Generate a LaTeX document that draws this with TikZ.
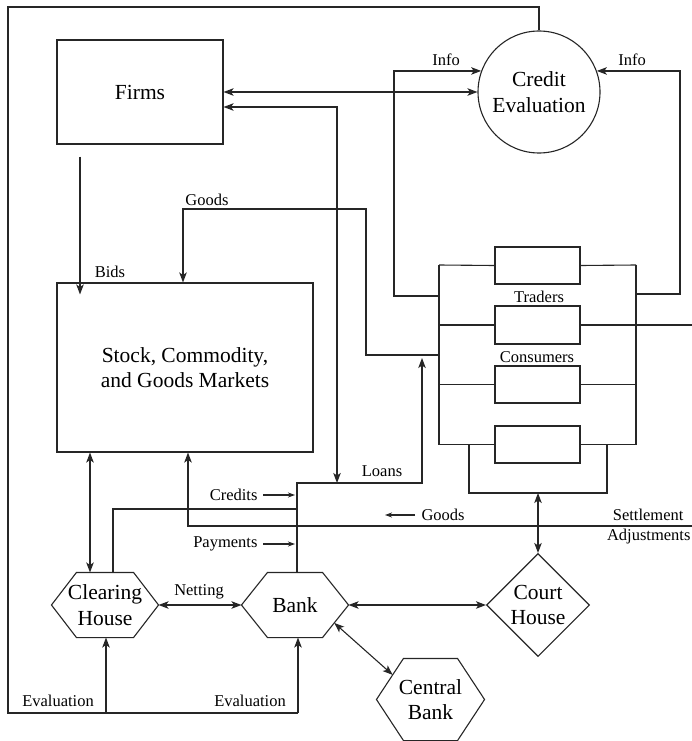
\documentclass[tikz,border=0pt]{standalone}
\usepackage{fontspec}
\setmainfont{Liberation Serif}
\usetikzlibrary{arrows.meta,shapes.geometric,calc}
\newcommand\hexnode[2]{\draw (#1.west) -- ([xshift=#2]#1.north west) -- ([xshift=-#2]#1.north east) -- (#1.east) -- ([xshift=-#2]#1.south east) -- ([xshift=#2]#1.south west) -- cycle;}
\begin{document}
\begin{tikzpicture}[x=1pt,y=-1pt, line width=1.1pt, color=black!85,
  >={Stealth[length=10pt,width=7.5pt,inset=2.5pt]},
  big/.style={font=\fontsize{21.5}{25.5}\selectfont, align=center, text=black},
  lbl/.style={font=\fontsize{16.5}{19}\selectfont, inner sep=0pt, text=black},
  box/.style={draw, rectangle, inner sep=0pt},
  smallarrow/.style={-{Stealth[length=7pt,width=5pt,inset=2pt]}},
  heavy/.style={line width=1.7pt},
]
\useasboundingbox (0,0) rectangle (692,741);

% main nodes
\node[box, big, minimum width=166pt, minimum height=104pt] (firms) at (140,92) {Firms};
\node[circle, draw, minimum size=122pt, inner sep=0pt, big] (credit) at (539,92) {Credit\\Evaluation};
\node[box, big, minimum width=256pt, minimum height=169pt] (market) at (185,367.5) {Stock, Commodity,\\and Goods Markets};
\node[box, minimum width=85pt, minimum height=37pt] (tr1) at (537.5,265.5) {};
\node[box, minimum width=85pt, minimum height=38pt] (tr2) at (537.5,325) {};
\node[box, minimum width=85pt, minimum height=37pt] (tr3) at (537.5,384.5) {};
\node[box, minimum width=85pt, minimum height=37pt] (tr4) at (537.5,444.5) {};
\node[big, minimum width=106pt, minimum height=64pt, inner sep=0pt] (ch) at (105,605) {Clearing\\House};
\node[big, minimum width=106pt, minimum height=64pt, inner sep=0pt] (bank) at (295,605) {Bank};
\node[big, draw, diamond, minimum width=103pt, minimum height=103pt, inner sep=0pt] (court) at (538,605) {Court\\House};
\node[big, minimum width=107pt, minimum height=81pt, inner sep=0pt] (cbank) at (430.5,699.5) {Central\\Bank};
\hexnode{ch}{25pt}
\hexnode{bank}{26pt}
\hexnode{cbank}{27pt}

% coordinates
\coordinate (bL1) at (439,265);
\coordinate (bL4) at (439,445);
\coordinate (bR1) at (636,265);
\coordinate (bR4) at (636,445);
\coordinate (ubot) at (538,493);
\coordinate (loanTop) at (337,483);
\coordinate (loanEnd) at (422,358);
\coordinate (goodsW) at (439,355);
\coordinate (infoLW) at (439,296);
\coordinate (infoRE) at (636,294);
\coordinate (setR) at (692,526);
\coordinate (frameTL) at (8,7);
\coordinate (bkse) at ($(bank.east)!0.55!([xshift=-26pt]bank.south east)$);
\coordinate (cbnw) at ($([xshift=27pt]cbank.north west)!0.4!(cbank.west)$);

% traders / consumers block
\draw (bL1) -- (bL4);
\draw (bR1) -- (bR4);
\draw (bL1) -- (tr1.west);
\draw (tr1.east) -- (bR1);
\draw[heavy] (tr2.west -| bL1) -- (tr2.west);
\draw[heavy] (tr2.east) -- (tr2.east -| setR);
\draw[heavy] (tr3.west -| bL1) -- (tr3.west);
\draw[heavy] (tr3.east) -- (tr3.east -| bR1);
\draw (tr4.west -| bL1) -- (tr4.west);
\draw (tr4.east) -- (tr4.east -| bR1);
\draw (469,445) -- (469,493) -- (607,493) -- (607,445);
\node[lbl] (traders) at (539,297) {Traders};
\node[lbl] (consumers) at (537,357) {Consumers};

% Firms <-> Credit Evaluation
\draw[<->] (firms.east) -- (credit.west);
% Firms <-> loans line
\draw[<->] ([yshift=-15pt]firms.east) -| (loanTop);
% Info arrows
\draw[->] (infoLW) -- (394,296) |- (credit.160);
\draw[->] (infoRE) -- (680,294) |- (credit.20);
\node[lbl] (info1) at (446,60) {Info};
\node[lbl] (info2) at (632,60) {Info};
% Goods (top)
\draw[->] (goodsW) -- (366,355) -- (366,209) -| ([xshift=-2pt]market.north);
\node[lbl] (goods1) at (207,200) {Goods};
% Bids
\draw[->] ([xshift=-60pt,yshift=-12pt]firms.south) -- ([xshift=-60pt,yshift=-12pt]firms.south |- market.north);
\node[lbl] (bids) at (110,272) {Bids};
% Loans
\draw[->] ([xshift=2pt]bank.north) |- (422,483) -- (loanEnd);
\node[lbl] (loans) at (382,471) {Loans};
% Clearing house line to bank line
\draw ([xshift=8pt]ch.north) |- (297,509);
% Clearing house <-> market
\draw[<->] ([xshift=-15pt]ch.north) -- ([xshift=-15pt]ch.north |- market.south);
% Settlement / goods back
\draw[->] (setR) -- (188,526) -- (market.south -| 188,0);
\node[lbl, anchor=east] (settle) at (684,515) {Settlement};
\node[lbl, anchor=east] (adjust) at (691,537) {Adjustments};
\draw[smallarrow] (415,515) -- (385,515);
\node[lbl, anchor=west] (goods2) at (421,515) {Goods};
% Credits / Payments
\node[lbl, anchor=east] (credits) at (258,495) {Credits};
\draw[smallarrow] (263,495) -- (295,495);
\node[lbl, anchor=east] (payments) at (258,544) {Payments};
\draw[smallarrow] (263,544) -- (295,544);
% Netting
\draw[<->] (ch.east) -- (bank.west);
\node[lbl] (netting) at (199,592) {Netting};
% Bank <-> Court
\draw[<->] (bank.east) -- (court.west);
% Court <-> block
\draw[<->] (ubot) -- (court.north);
% Bank <-> Central bank
\draw[<->] (bkse) -- (cbnw);
% frame & evaluation
\draw (credit.north) |- (frameTL) -- (8,713) -- (298,713);
\draw[->] (298,713) -- ([xshift=3pt]bank.south);
\draw[->] (106,713) -- ([xshift=1pt]ch.south);
\node[lbl] (eval1) at (58,701) {Evaluation};
\node[lbl] (eval2) at (250,701) {Evaluation};
\end{tikzpicture}
\end{document}
